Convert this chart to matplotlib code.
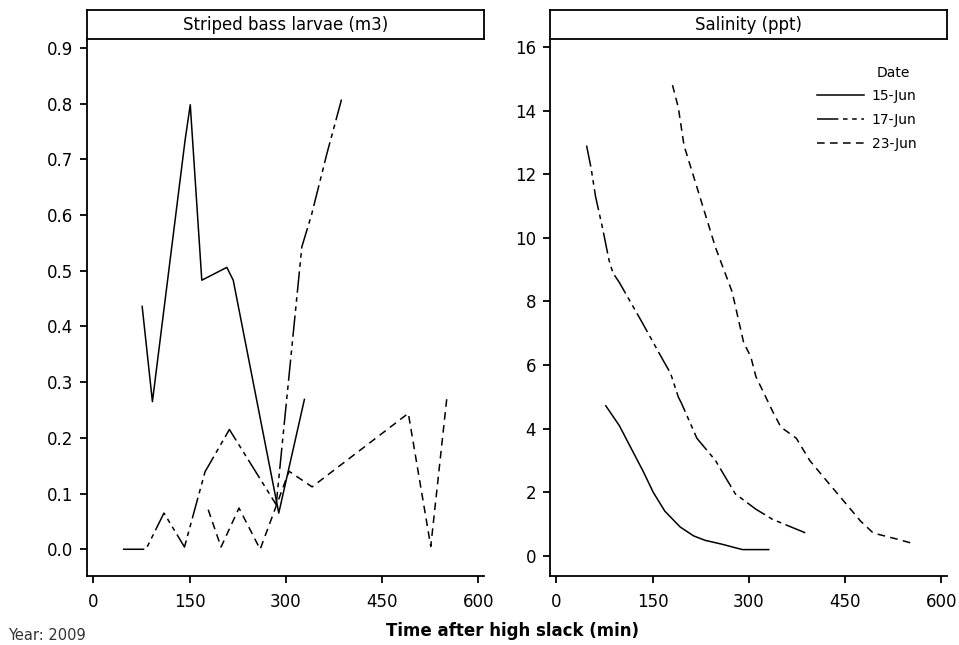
import matplotlib
matplotlib.use("Agg")
import matplotlib.pyplot as plt
from matplotlib.lines import Line2D

# ---------------------------------------------------------
# Data (time after high slack, min)
# ---------------------------------------------------------

dates = ["15-Jun", "17-Jun", "23-Jun"]

# Striped bass larvae (m3)
larvae_t_15 = [76, 92, 143, 151, 169, 208, 218, 289, 329]
larvae_v_15 = [0.436, 0.265, 0.735, 0.798, 0.483, 0.506, 0.483, 0.065, 0.269]

larvae_t_17 = [46, 82, 110, 142, 174, 212, 285, 325, 340, 364, 387]
larvae_v_17 = [0.0, 0.0, 0.065, 0.004, 0.139, 0.215, 0.08, 0.543, 0.6, 0.71, 0.808]

larvae_t_23 = [179, 199, 227, 260, 305, 341, 491, 526, 551]
larvae_v_23 = [0.071, 0.004, 0.074, 0.0, 0.14, 0.112, 0.244, 0.005, 0.271]

# Salinity (ppt)
sal_t_15 = [77, 98, 135, 151, 169, 193, 214, 232, 258, 290, 331]
sal_v_15 = [4.72, 4.1, 2.67, 2.0, 1.41, 0.91, 0.63, 0.49, 0.37, 0.2, 0.2]

sal_t_17 = [47, 54, 61, 72, 82, 88, 98, 132, 165, 178, 190, 195, 219, 248, 279, 311, 337, 389]
sal_v_17 = [12.9, 12.2, 11.3, 10.3, 9.3, 8.9, 8.6, 7.4, 6.2, 5.74, 5.0, 4.8, 3.7, 3.0, 1.95, 1.47, 1.15, 0.72]

sal_t_23 = [181, 190, 199, 222, 248, 274, 292, 303, 311, 337, 350, 374, 395, 426, 452, 474, 494, 531, 556]
sal_v_23 = [14.8, 14.1, 12.9, 11.4, 9.7, 8.3, 6.7, 6.27, 5.64, 4.55, 4.05, 3.7, 3.0, 2.25, 1.63, 1.1, 0.72, 0.53, 0.39]

x_ticks = [0, 150, 300, 450, 600]
larvae_ticks = [0.0, 0.1, 0.2, 0.3, 0.4, 0.5, 0.6, 0.7, 0.8, 0.9]
sal_ticks = [0, 2, 4, 6, 8, 10, 12, 14, 16]

# line style per date
styles = {
    "15-Jun": dict(linestyle="-"),
    "17-Jun": dict(linestyle=(0, (14, 3, 3, 3, 3, 3))),
    "23-Jun": dict(linestyle=(0, (5, 3.5))),
}

plt.rcParams["font.family"] = "DejaVu Sans"

W, H = 959, 645
fig = plt.figure(figsize=(W / 100, H / 100), dpi=100)


def px_axes(x0, y0, x1, y1):
    # pixel box (top-left origin) -> figure axes
    return fig.add_axes([x0 / W, 1 - y1 / H, (x1 - x0) / W, (y1 - y0) / H])


def panel(x0, x1, title, ylim, yticks, yfmt):
    ax = px_axes(x0, 39, x1, 576)
    ax.set_xlim(-10, 609)
    ax.set_ylim(*ylim)
    ax.set_xticks(x_ticks)
    ax.set_yticks(yticks)
    ax.set_yticklabels([yfmt.format(v) for v in yticks])
    ax.spines["top"].set_visible(False)
    ax.spines["right"].set_visible(False)
    for s in ("left", "bottom"):
        ax.spines[s].set_linewidth(1.3)
    ax.tick_params(direction="out", length=5, width=1.3, labelsize=12, pad=5)
    ax.tick_params(axis="x", pad=7)

    tb = px_axes(x0, 10, x1, 39)
    tb.set_xticks([])
    tb.set_yticks([])
    for s in tb.spines.values():
        s.set_linewidth(1.3)
    tb.text(0.5, 0.5, title, ha="center", va="center", fontsize=12, transform=tb.transAxes)
    return ax


ax1 = panel(87, 484, "Striped bass larvae (m3)", (-0.048, 0.916), larvae_ticks, "{:.1f}")
ax1.plot(larvae_t_15, larvae_v_15, color="black", lw=1.1, **styles["15-Jun"])
ax1.plot(larvae_t_17, larvae_v_17, color="black", lw=1.1, **styles["17-Jun"])
ax1.plot(larvae_t_23, larvae_v_23, color="black", lw=1.1, **styles["23-Jun"])

ax2 = panel(550, 947, "Salinity (ppt)", (-0.63, 16.25), sal_ticks, "{:d}")
ax2.plot(sal_t_15, sal_v_15, color="black", lw=1.1, **styles["15-Jun"])
ax2.plot(sal_t_17, sal_v_17, color="black", lw=1.1, **styles["17-Jun"])
ax2.plot(sal_t_23, sal_v_23, color="black", lw=1.1, **styles["23-Jun"])

# legend
handles = [Line2D([], [], color="black", lw=1.1, **styles[d]) for d in dates]
ax2.legend(handles, dates, loc="upper left", bbox_to_anchor=((817 - 550) / 397, (576 - 89) / 537),
           frameon=False, fontsize=10, handlelength=3.4, handletextpad=0.55,
           labelspacing=0.72, borderaxespad=0, borderpad=0)
fig.text(877 / W, 1 - 73 / H, "Date", fontsize=10, ha="left", va="center")

fig.text(512 / W, 1 - 631 / H, "Time after high slack (min)", fontsize=12,
         fontweight="bold", ha="center", va="center")
fig.text(8 / W, 1 - 636 / H, "Year: 2009", fontsize=10.5, color="#333333",
         ha="left", va="center")

fig.savefig("out.png", dpi=100)
